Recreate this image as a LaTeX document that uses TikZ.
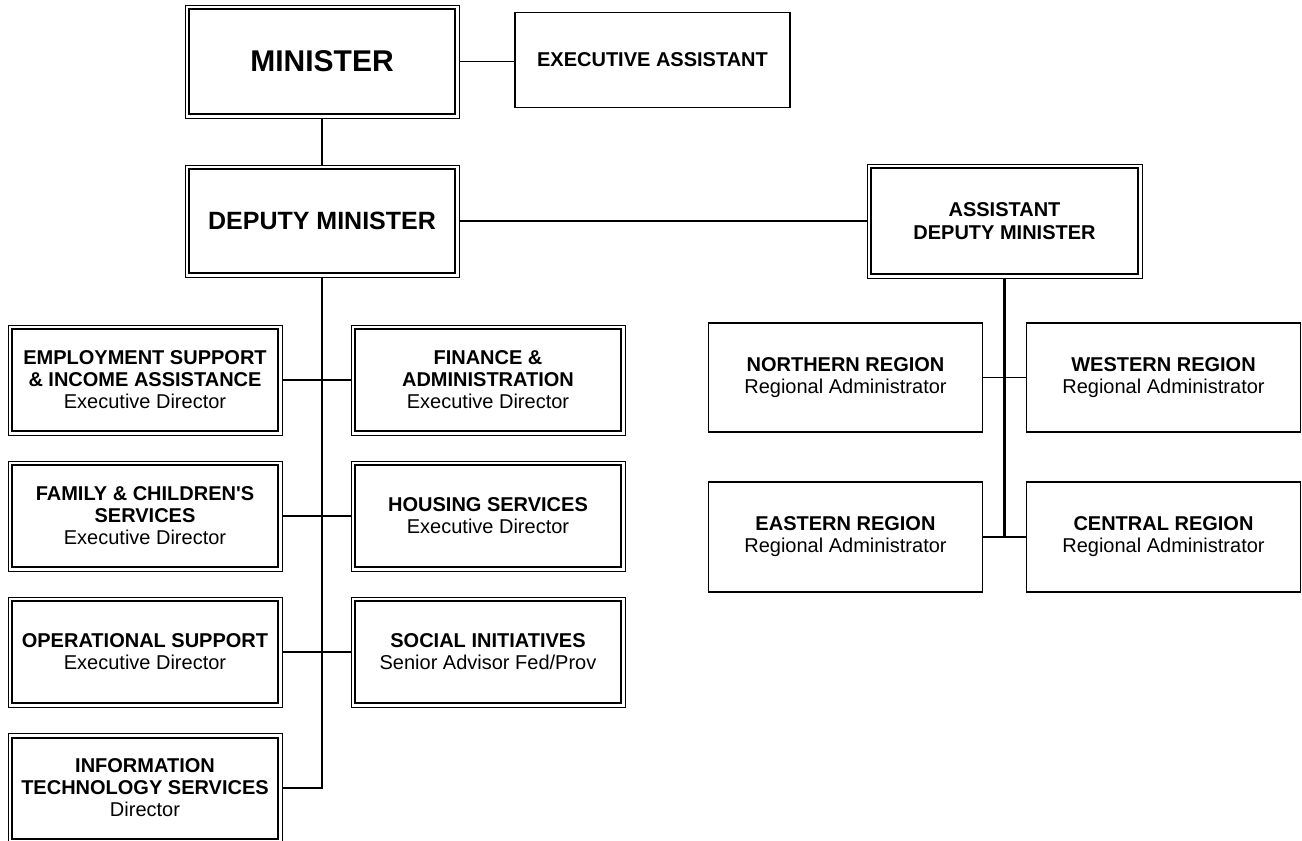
\documentclass[tikz,border=0pt]{standalone}
\usepackage{fontspec}
\setmainfont{Liberation Sans}[Ligatures=TeXOff]
\begin{document}
\begin{tikzpicture}[x=1pt,y=-1pt,
  sbox/.style={draw, line width=1.5pt, rectangle, inner sep=0pt, align=center,
    font=\fontsize{20}{22}\selectfont},
  dbox/.style={draw, line width=1pt, rectangle, inner sep=0pt, align=center,
    font=\fontsize{20}{22}\selectfont,
    append after command={\pgfextra{\draw[line width=2pt]
      ([xshift=4.5pt,yshift=-4.5pt]\tikzlastnode.north west) rectangle
      ([xshift=-4.5pt,yshift=4.5pt]\tikzlastnode.south east);}}},
  colbox/.style={dbox, minimum width=274pt, minimum height=110pt},
  regbox/.style={sbox, minimum width=274pt, minimum height=109pt},
  link/.style={line width=1.6pt},
  trunk/.style={line width=2.4pt}
]
\useasboundingbox (0,0) rectangle (1302,841);
\clip (0,0) rectangle (1302,841);
\fill[white] (0,0) rectangle (1302,841);

% top level
\node[dbox, minimum width=274pt, minimum height=113pt, font=\fontsize{30}{34}\selectfont\bfseries]
  (min) at (322,61.5) {MINISTER};
\node[sbox, minimum width=275pt, minimum height=95pt, font=\fontsize{20}{22}\selectfont\bfseries]
  (ea) at (652.5,60) {EXECUTIVE ASSISTANT};
\node[dbox, minimum width=274pt, minimum height=112pt, font=\fontsize{25}{28}\selectfont\bfseries]
  (dm) at (322,221) {DEPUTY MINISTER};
\node[dbox, minimum width=275pt, minimum height=114pt, font=\fontsize{20}{23}\selectfont\bfseries]
  (adm) at (1004.5,221) {ASSISTANT\\DEPUTY MINISTER};

% left columns
\node[colbox] (esia) at (145,380) {\textbf{EMPLOYMENT SUPPORT}\\\textbf{\& INCOME ASSISTANCE}\\Executive Director};
\node[colbox] (fin) at (488,380) {\textbf{FINANCE \&}\\\textbf{ADMINISTRATION}\\Executive Director};
\node[colbox] (fam) at (145,516) {\textbf{FAMILY \& CHILDREN'S}\\\textbf{SERVICES}\\Executive Director};
\node[colbox] (hous) at (488,516) {\textbf{HOUSING SERVICES}\\Executive Director};
\node[colbox] (ops) at (145,652) {\textbf{OPERATIONAL SUPPORT}\\Executive Director};
\node[colbox] (soc) at (488,652) {\textbf{SOCIAL INITIATIVES}\\Senior Advisor Fed/Prov};
\node[colbox, minimum height=109pt] (it) at (145,788) {\textbf{INFORMATION}\\\textbf{TECHNOLOGY SERVICES}\\Director};

% regions
\node[regbox] (north) at (845.5,377.5) {\textbf{NORTHERN REGION}\\Regional Administrator};
\node[regbox] (west) at (1163.5,377.5) {\textbf{WESTERN REGION}\\Regional Administrator};
\node[regbox, minimum height=110pt] (east) at (845.5,537) {\textbf{EASTERN REGION}\\Regional Administrator};
\node[regbox, minimum height=110pt] (cent) at (1163.5,537) {\textbf{CENTRAL REGION}\\Regional Administrator};

% connectors
\draw[link] (min.south) -- (dm.north);
\draw[link] (min.east) -- (min.east -| ea.west);
\draw[link] (dm.east) -- (dm.east -| adm.west);
\draw[trunk] (dm.south) -- (dm.south |- it.east) -- (it.east);
\draw[link] (esia.east) -- (fin.west);
\draw[link] (fam.east) -- (hous.west);
\draw[link] (ops.east) -- (soc.west);
\draw[trunk] (adm.south) -- (adm.south |- east.east);
\draw[link] (north.east) -- (west.west);
\draw[link] (east.east) -- (cent.west);
\end{tikzpicture}
\end{document}
